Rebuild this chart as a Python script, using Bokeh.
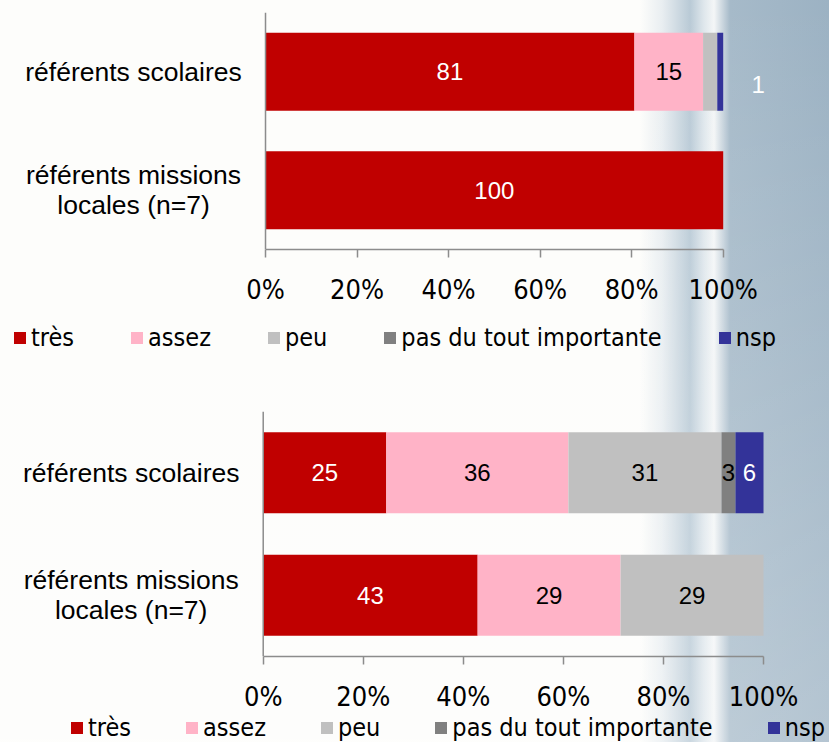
from bokeh.plotting import figure
from bokeh.models import (ColumnDataSource, Range1d, FactorRange, FixedTicker, PrintfTickFormatter,
                          LabelSet, Legend, LegendItem, Span, GlobalInlineStyleSheet)
from bokeh.core.properties import value
from bokeh.layouts import column
from bokeh.embed import file_html
from bokeh.resources import INLINE

# ---------------- data ----------------
categories = ["référents scolaires", "référents missions locales (n=7)"]
# displayed category text, one entry per line
category_lines = [["référents scolaires"], ["référents missions", "locales (n=7)"]]
series_keys = ["tres", "assez", "peu", "pas", "nsp"]
series_names = ["très", "assez", "peu", "pas du tout importante", "nsp"]
series_colors = ["#C00000", "#FFB3C7", "#C0C0C0", "#808080", "#333399"]
value_text_colors = ["#FFFFFF", "#000000", "#000000", "#000000", "#FFFFFF"]

# top chart
top_tres = [80.6, 100.0]
top_assez = [15.0, 0.0]
top_peu = [3.1, 0.0]
top_pas = [0.0, 0.0]
top_nsp = [1.3, 0.0]
top_hidden = [("référents scolaires", "peu")]

# bottom chart
bot_tres = [24.6, 42.86]
bot_assez = [36.4, 28.57]
bot_peu = [30.6, 28.57]
bot_pas = [2.8, 0.0]
bot_nsp = [5.6, 0.0]
bot_hidden = []

x_ticks = [0, 20, 40, 60, 80, 100]

NARROW = "'DejaVu Sans Condensed', 'Liberation Sans Narrow', sans-serif"
REGULAR = "'Liberation Sans', Arial, sans-serif"
AXIS_GREY = "#8C8C8C"
LINE_GAP = 30  # px between the two lines of a category label


def style_clear(p):
    p.background_fill_color = None
    p.border_fill_color = None
    p.outline_line_color = None


def make_chart(values, hidden, label_shift, height, x_view, borders):
    data = dict(cat=categories)
    for k, v in zip(series_keys, values):
        data[k] = v
    src = ColumnDataSource(data)

    top, bottom = borders
    p = figure(width=829, height=height,
               y_range=FactorRange(factors=list(reversed(categories))),
               x_range=Range1d(*x_view),
               output_backend="svg", toolbar_location=None,
               min_border_left=0, min_border_right=0,
               min_border_top=top, min_border_bottom=bottom)
    style_clear(p)
    p.xgrid.visible = False
    p.ygrid.visible = False
    p.yaxis.visible = False

    p.hbar_stack(series_keys, y="cat", height=0.66, source=src,
                 fill_color=series_colors, line_color=None)

    # vertical axis line at 0
    p.add_layout(Span(location=0, dimension="height", line_color=AXIS_GREY, line_width=1.5))

    # x axis
    xa = p.xaxis[0]
    xa.bounds = (0, 100)
    xa.ticker = FixedTicker(ticks=x_ticks)
    xa.formatter = PrintfTickFormatter(format="%d%%")
    xa.axis_line_color = AXIS_GREY
    xa.axis_line_width = 1.5
    xa.major_tick_line_color = AXIS_GREY
    xa.major_tick_line_width = 1.5
    xa.major_tick_out = 8
    xa.major_tick_in = 0
    xa.minor_tick_out = 0
    xa.minor_tick_in = 0
    xa.major_label_text_font = NARROW
    xa.major_label_text_font_size = "27px"
    xa.major_label_text_color = "#000000"
    xa.major_label_standoff = 16

    # category labels, centred to the left of the bars (one row per text line)
    cx, cy, ct, cyo = [], [], [], []
    for cat, lines in zip(categories, category_lines):
        n = len(lines)
        for k, line in enumerate(lines):
            cx.append(0)
            cy.append(cat)
            ct.append(line)
            cyo.append(((n - 1) / 2 - k) * LINE_GAP)
    cat_src = ColumnDataSource(dict(x=cx, y=cy, text=ct, yo=cyo))
    p.add_layout(LabelSet(x="x", y="y", text="text", source=cat_src, x_offset=-132, y_offset="yo",
                          text_align="center", text_baseline="middle",
                          text_font=value(REGULAR), text_font_size="26.5px", text_color="#000000"))

    # value labels
    lx, ly, lt, lc, lxo, lyo = [], [], [], [], [], []
    for i, cat in enumerate(categories):
        cum = 0.0
        for j, name in enumerate(series_names):
            v = values[j][i]
            if v > 0 and (cat, name) not in hidden:
                lx.append(cum + v / 2)
                ly.append(cat)
                lt.append(str(int(round(v))))
                lc.append(value_text_colors[j])
                dx, dy = label_shift.get((cat, name), (0, 0))
                lxo.append(dx)
                lyo.append(dy)
            cum += v
    val_src = ColumnDataSource(dict(x=lx, y=ly, text=lt, color=lc, xo=lxo, yo=lyo))
    p.add_layout(LabelSet(x="x", y="y", text="text", source=val_src, text_color="color",
                          x_offset="xo", y_offset="yo",
                          text_align="center", text_baseline="middle",
                          text_font=value(REGULAR), text_font_size="24px"))
    return p


def make_legend(height, loc, spacing):
    lp = figure(width=829, height=height, x_range=Range1d(0, 1), y_range=Range1d(0, 1),
                x_axis_type=None, y_axis_type=None,
                output_backend="svg", toolbar_location=None, min_border=0)
    style_clear(lp)
    lp.xgrid.visible = False
    lp.ygrid.visible = False
    # swatch renderers: one entry each, kept outside the visible range
    swatches = [lp.hbar(y=[-1], right=[1], height=0.5, fill_color=c, line_color=None)
                for c in series_colors]
    legend = Legend(items=[LegendItem(label=n, renderers=[r]) for n, r in zip(series_names, swatches)],
                    orientation="horizontal", location=loc,
                    glyph_width=15, glyph_height=15, label_standoff=4, spacing=spacing,
                    padding=0, margin=0, border_line_color=None, background_fill_alpha=0,
                    label_text_font=NARROW, label_text_font_size="25px",
                    label_text_color="#000000")
    lp.add_layout(legend, "center")
    return lp


top_vals = [top_tres, top_assez, top_peu, top_pas, top_nsp]
bot_vals = [bot_tres, bot_assez, bot_peu, bot_pas, bot_nsp]

# x_view: value range covered by the full 829px-wide frame (0..100 sits on the bars' area)
p1 = make_chart(top_vals, top_hidden, {("référents scolaires", "nsp"): (38, -13)},
                height=309, x_view=(-57.90, 123.22), borders=(12, 60))
l1 = make_legend(height=71, loc=(12, 28), spacing=55)
p2 = make_chart(bot_vals, bot_hidden, {},
                height=334, x_view=(-52.51, 113.19), borders=(31, 56))
l2 = make_legend(height=28, loc=(69, 0), spacing=53)

bg_css = """
html { overflow: hidden; }
body {
  overflow: hidden;
  background:
    linear-gradient(to bottom, rgba(255,255,255,0) 0%, rgba(255,255,255,0.25) 100%),
    linear-gradient(to right, #fdfdfb 0px, #fdfdfb 640px, #e9eef1 662px, #b9cad6 690px,
                    #dfe7ec 704px, #f4f6f7 714px, #a6bac9 730px, #9cb2c3 829px);
  background-size: 829px 742px;
  background-repeat: no-repeat;
  background-color: #fdfdfb;
}
"""

layout = column(p1, l1, p2, l2, spacing=0, stylesheets=[GlobalInlineStyleSheet(css=bg_css)])

with open("out.html", "w") as f:
    f.write(file_html(layout, INLINE))
